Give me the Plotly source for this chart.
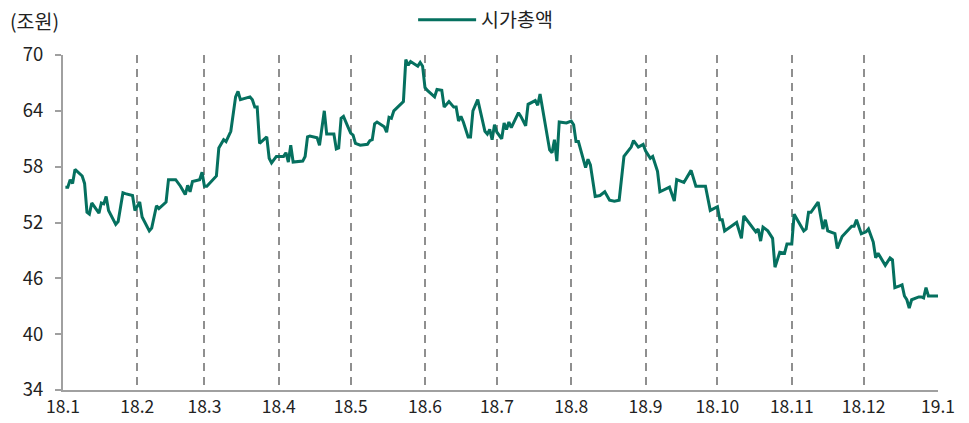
"""Market cap line chart (2018) recreated with plotly."""

import pandas as pd
from plotly import graph_objects as go

# trading days, as day offsets from 2018-01-01
day_offset = [
    1, 2, 3, 4, 5, 8, 9, 10, 11, 12, 15, 16, 17, 18, 19, 22, 23, 25, 26, 29,
    30, 32, 33, 36, 37, 39, 40, 43, 44, 47, 49, 51, 52, 53, 54, 57, 58, 59, 60, 64,
    65, 67, 68, 70, 72, 73, 74, 78, 79, 80, 81, 82, 85, 86, 87, 89, 92, 93, 94, 95,
    96, 100, 101, 102, 103, 106, 107, 109, 110, 113, 114, 115, 116, 117, 119, 120, 121, 122, 124, 127,
    128, 129, 130, 131, 134, 135, 136, 137, 138, 141, 142, 143, 144, 145, 148, 149, 150, 151, 152, 155,
    156, 158, 159, 161, 163, 164, 165, 166, 167, 169, 170, 171, 173, 176, 177, 178, 179, 180, 181, 183,
    184, 185, 186, 187, 190, 191, 193, 194, 197, 198, 199, 203, 204, 205, 206, 207, 210, 212, 213, 214,
    215, 218, 219, 220, 222, 224, 226, 228, 230, 232, 233, 234, 237, 238, 240, 241, 242, 243, 245, 246,
    248, 249, 253, 255, 256, 259, 262, 264, 268, 270, 273, 274, 275, 276, 281, 283, 284, 289, 290, 291,
    292, 294, 296, 297, 299, 301, 302, 304, 305, 309, 310, 311, 312, 315, 317, 318, 319, 322, 323, 325,
    326, 329, 330, 331, 333, 335, 336, 338, 339, 340, 343, 345, 346, 347, 349, 350, 351, 352, 353, 354,
    357, 358, 359, 360, 361, 365,
]

# market cap, trillion won
market_cap = [
    55.8, 55.8, 56.6, 56.2, 57.7, 57.0, 56.2, 53.1, 52.9, 54.1, 53.0, 54.1, 54.0, 54.8, 53.3, 51.8, 52.1, 55.2, 55.1, 54.9,
    53.3, 54.2, 52.6, 51.1, 51.4, 53.8, 53.5, 54.2, 56.6, 56.6, 55.9, 55.0, 56.0, 55.3, 56.4, 56.6, 57.4, 55.9, 55.9, 57.0,
    60.0, 60.9, 60.7, 61.8, 65.5, 66.1, 65.2, 65.5, 65.2, 64.4, 64.4, 60.5, 61.2, 58.9, 58.4, 59.1, 59.1, 59.5, 58.5, 60.3,
    58.5, 58.6, 59.1, 61.2, 61.3, 61.1, 60.3, 64.0, 61.5, 61.5, 59.9, 60.0, 63.2, 63.4, 62.2, 61.6, 61.4, 60.5, 60.3, 60.4,
    60.8, 60.9, 62.6, 62.8, 62.3, 61.7, 63.3, 63.2, 64.0, 64.8, 65.0, 69.5, 68.9, 69.3, 68.8, 69.2, 68.8, 66.5, 66.2, 65.5,
    66.3, 66.2, 64.4, 65.0, 64.4, 64.4, 62.9, 63.4, 62.8, 61.2, 61.2, 64.0, 65.2, 61.8, 61.5, 62.0, 60.9, 62.5, 61.7, 61.0,
    62.7, 62.0, 62.8, 62.2, 63.8, 63.4, 62.4, 64.7, 65.1, 64.6, 65.8, 59.8, 59.5, 60.9, 58.6, 62.8, 62.7, 62.9, 62.5, 60.7,
    60.7, 57.9, 58.8, 58.2, 54.8, 54.9, 55.3, 54.4, 54.3, 54.4, 57.1, 59.1, 60.1, 60.8, 60.1, 60.3, 60.4, 59.7, 58.9, 59.1,
    57.5, 55.3, 55.8, 54.3, 56.6, 56.3, 57.6, 55.9, 55.9, 53.3, 53.7, 52.3, 52.3, 51.1, 52.0, 50.3, 52.7, 51.0, 51.3, 50.0,
    51.5, 51.1, 50.3, 47.2, 48.8, 48.7, 49.7, 49.7, 52.9, 51.1, 51.3, 53.1, 53.1, 54.2, 51.3, 52.3, 51.1, 50.8, 49.2, 50.5,
    50.8, 51.6, 51.6, 52.3, 50.8, 51.0, 51.3, 49.9, 48.2, 48.7, 47.4, 48.2, 48.0, 45.0, 45.2, 45.3, 44.1, 43.7, 42.8, 43.7,
    44.0, 44.0, 43.9, 45.0, 44.1, 44.1,
]

month_starts = pd.date_range("2018-01-01", "2019-01-01", freq="MS")
month_labels = [f"{d.year % 100}.{d.month}" for d in month_starts]
y_ticks = [34, 40, 46, 52, 58, 64, 70]

FONT = "Noto Sans CJK KR"
TEAL = "#05705f"
GREY = "#8f8f8f"
AXIS = "#a0a0a0"

dates = pd.Timestamp("2018-01-01") + pd.to_timedelta(day_offset, unit="D")

fig = go.Figure(
    go.Scatter(
        x=dates,
        y=market_cap,
        mode="lines",
        name="시가총액",
        line={"color": TEAL, "width": 3},
    )
)

# the page body has an 8px margin, so the figure is 8px smaller than the window
fig.update_layout(
    width=961,
    height=415,
    margin={"l": 55, "r": 31, "t": 47, "b": 33},
    plot_bgcolor="white",
    paper_bgcolor="white",
    font={"family": FONT, "size": 17.5, "color": "#222"},
    showlegend=True,
    legend={
        "orientation": "h",
        "xref": "container",
        "yref": "container",
        "x": 0.497,
        "xanchor": "center",
        "y": 0.971,
        "yanchor": "middle",
        "itemwidth": 58,
        "font": {"size": 19.5},
    },
    annotations=[
        {
            "text": "(조원)",
            "xref": "paper",
            "yref": "paper",
            "x": -0.033,
            "y": 1.104,
            "xanchor": "center",
            "yanchor": "middle",
            "showarrow": False,
            "font": {"size": 19.5},
        }
    ],
)

fig.update_xaxes(
    type="date",
    range=[month_starts[0], month_starts[-1]],
    tickvals=month_starts,
    ticktext=month_labels,
    showgrid=True,
    gridcolor=GREY,
    gridwidth=2,
    griddash="8px,6px",
    showline=True,
    linecolor=AXIS,
    linewidth=2,
    ticks="",
    zeroline=False,
    automargin=False,
)
fig.update_yaxes(
    range=[34, 70],
    tickvals=y_ticks,
    showgrid=False,
    showline=True,
    linecolor=AXIS,
    linewidth=2,
    ticks="outside",
    ticklen=6,
    tickwidth=2,
    tickcolor=AXIS,
    ticklabelstandoff=8,
    tickfont={"size": 18.5},
    zeroline=False,
    automargin=False,
)

fig.write_html("out.html")
